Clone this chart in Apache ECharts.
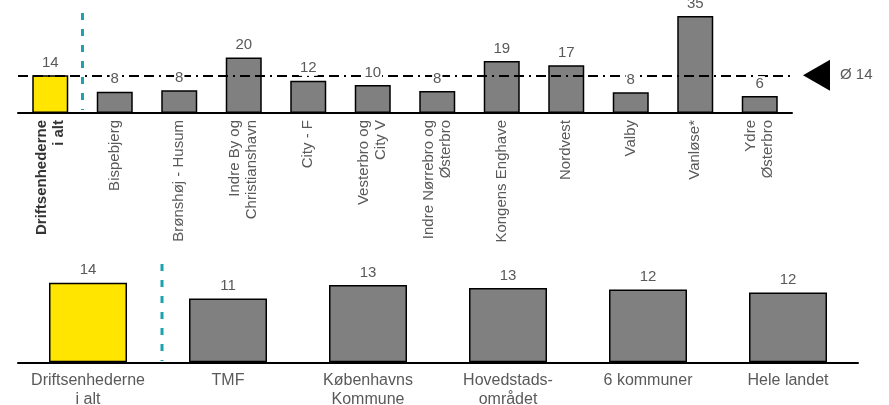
<!DOCTYPE html>
<html><head><meta charset="utf-8">
<script src="https://cdn.jsdelivr.net/npm/echarts@6/dist/echarts.min.js"></script>
<style>html,body{margin:0;padding:0;background:#fff}#c{width:889px;height:405px}</style>
</head><body><div id="c"></div>
<script>
const topCategories = ['Driftsenhederne\ni alt','Bispebjerg','Brønshøj - Husum','Indre By og\nChristianshavn','City - F','Vesterbro og\nCity V','Indre Nørrebro og\nØsterbro','Kongens Enghave','Nordvest','Valby','Vanløse*','Ydre\nØsterbro'];
const topValues = [13.6, 7.7, 8.2, 20, 11.6, 10.1, 7.9, 18.8, 17.2, 7.5, 35, 6.1];
const avgValue = 13.6;
const avgLabel = 'Ø 14';
const bottomCategories = ['Driftsenhederne\ni alt','TMF','Københavns\nKommune','Hovedstads-\nområdet','6 kommuner','Hele landet'];
const bottomValues = [13.6, 10.9, 13.2, 12.7, 12.45, 11.9];

const FONT = 'Liberation Sans, Arial, sans-serif';
const GREY = '#808080', YELLOW = '#FFE500', TXT = '#595959', CYAN = '#1BA3AF';

function barData(vals){
  return vals.map((v,i)=>({value:v, itemStyle:{color: i===0?YELLOW:GREY}}));
}
const valLabel = {show:true, position:'top', distance:5, color:TXT, fontSize:15, fontFamily:FONT,
  backgroundColor:'#fff', padding:[0,1,0,1], formatter:p=>Math.round(p.value)};

const chart = echarts.init(document.getElementById('c'));
chart.setOption({
  animation:false,
  textStyle:{fontFamily:FONT},
  grid:[
    {left:18, right:97, top:16, height:97, outerBoundsMode:'none', containLabel:false},
    {left:18, right:31, top:280.3, height:82, outerBoundsMode:'none', containLabel:false}
  ],
  xAxis:[
    {type:'category', gridIndex:0, data:topCategories,
     axisLine:{lineStyle:{color:'#000', width:2}}, axisTick:{show:false},
     axisLabel:{interval:0, rotate:90, margin:7, color:TXT, fontSize:15, lineHeight:17, fontFamily:FONT,
       formatter:(v,i)=> i===0 ? v.split('\n').map(s=>'{b|'+s+'}').join('\n') : v,
       rich:{b:{fontWeight:'bold', color:'#333', fontSize:15, lineHeight:17, fontFamily:FONT}}}},
    {type:'category', gridIndex:1, data:bottomCategories,
     axisLine:{lineStyle:{color:'#000', width:2}}, axisTick:{show:false},
     axisLabel:{interval:0, margin:9, color:TXT, fontSize:16, lineHeight:19, fontFamily:FONT}}
  ],
  yAxis:[
    {type:'value', gridIndex:0, min:0, max:35, show:false},
    {type:'value', gridIndex:1, min:0, max:14, show:false}
  ],
  series:[
    {type:'bar', xAxisIndex:0, yAxisIndex:0, data:barData(topValues), barWidth:36, barGap:'-100%', z:2,
     itemStyle:{borderColor:'#000', borderWidth:1.5}, label:{show:false},
     markLine:{silent:true, z:3, symbol:['none','none'], label:{show:false},
       lineStyle:{color:'#000', width:2, type:[10,5,10,5,2,5]},
       data:[{yAxis:avgValue}]}},
    {type:'bar', xAxisIndex:0, yAxisIndex:0, data:topValues, barWidth:36, barGap:'-100%', z:4,
     itemStyle:{color:'rgba(0,0,0,0)', borderWidth:0}, label:valLabel, silent:true},
    {type:'bar', xAxisIndex:1, yAxisIndex:1, data:barData(bottomValues), barWidth:78,
     itemStyle:{borderColor:'#000', borderWidth:1.5}, label:valLabel}
  ]
});

// decorations computed from the axes
const p0 = chart.convertToPixel({gridIndex:0}, [0, avgValue]);
const p1 = chart.convertToPixel({gridIndex:0}, [1, 0]);
const q0 = chart.convertToPixel({gridIndex:1}, [0, 0]);
const q1 = chart.convertToPixel({gridIndex:1}, [1, 0]);
const sepTop = (p0[0]+p1[0])/2;
const sepBot = (q0[0]+q1[0])/2 + 4;
const yAvg = p0[1];
const xEnd = 792;
chart.setOption({
  graphic:[
    {type:'line', shape:{x1:sepTop, y1:13, x2:sepTop, y2:110}, style:{stroke:CYAN, lineWidth:3, lineDash:[7,9]}, z:10},
    {type:'line', shape:{x1:sepBot, y1:264, x2:sepBot, y2:361}, style:{stroke:CYAN, lineWidth:3, lineDash:[7,9]}, z:10},
    {type:'polygon', shape:{points:[[xEnd+11, yAvg],[xEnd+38, yAvg-15.5],[xEnd+38, yAvg+15.5]]}, style:{fill:'#000'}, z:10},
    {type:'text', x:xEnd+48, y:yAvg, style:{text:avgLabel, fill:TXT, fontSize:15, fontFamily:FONT, textVerticalAlign:'middle', verticalAlign:'middle'}, z:10}
  ]
});
</script></body></html>
